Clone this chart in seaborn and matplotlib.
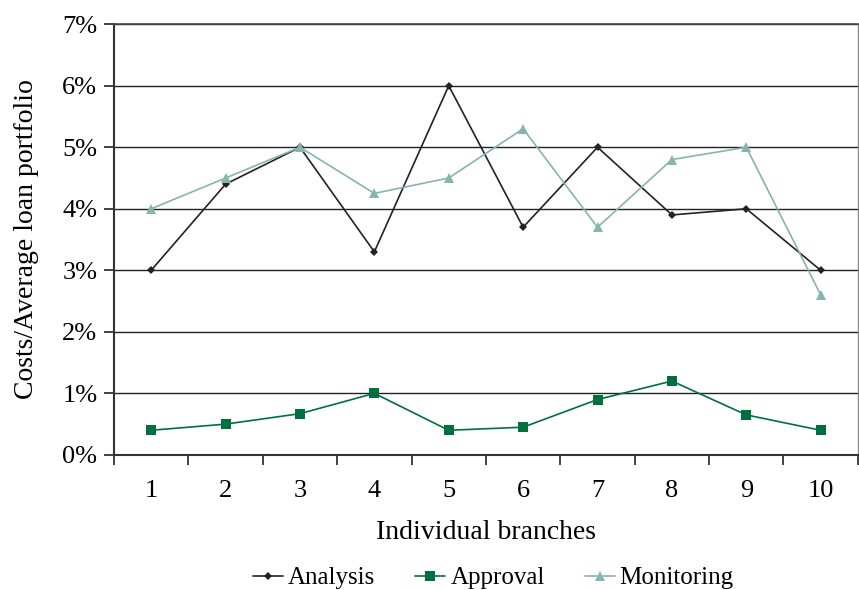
import matplotlib
matplotlib.use("Agg")
import matplotlib.pyplot as plt
import seaborn as sns
import pandas as pd
from matplotlib.ticker import FixedLocator, PercentFormatter

branches = [1, 2, 3, 4, 5, 6, 7, 8, 9, 10]
analysis = [3.0, 4.4, 5.0, 3.3, 6.0, 3.7, 5.0, 3.9, 4.0, 3.0]
approval = [0.4, 0.5, 0.67, 1.0, 0.4, 0.45, 0.9, 1.2, 0.65, 0.4]
monitoring = [4.0, 4.5, 5.0, 4.25, 4.5, 5.3, 3.7, 4.8, 5.0, 2.6]

df = pd.DataFrame({
    "branch": branches * 3,
    "value": analysis + approval + monitoring,
    "series": ["Analysis"] * 10 + ["Approval"] * 10 + ["Monitoring"] * 10,
})

sns.set_style("white")
plt.rcParams["font.family"] = ["Liberation Serif", "DejaVu Serif"]
plt.rcParams["text.color"] = "black"
plt.rcParams["axes.labelcolor"] = "black"
plt.rcParams["xtick.color"] = "black"
plt.rcParams["ytick.color"] = "black"

fig = plt.figure(figsize=(8.59, 5.90), dpi=100)
ax = fig.add_axes([0.1327, 0.229, 0.866, 0.730])

palette = {"Analysis": "#222222", "Approval": "#00703f", "Monitoring": "#86b4ae"}
markers = {"Analysis": "D", "Approval": "s", "Monitoring": "^"}
sizes = {"Analysis": 4.5, "Approval": 7, "Monitoring": 7.5}

for name in ["Analysis", "Approval", "Monitoring"]:
    sub = df[df["series"] == name]
    sns.lineplot(data=sub, x="branch", y="value", color=palette[name],
                 marker=markers[name], markersize=sizes[name], markeredgewidth=0,
                 linewidth=1.2, label=name, ax=ax)

ax.set_xlim(0.5, 10.5)
ax.set_ylim(0, 7)
ax.set_yticks(range(0, 8))
ax.yaxis.set_major_formatter(PercentFormatter(decimals=0))
ax.set_xticks(branches)
ax.xaxis.set_minor_locator(FixedLocator([x + 0.5 for x in range(0, 11)]))
ax.tick_params(axis="x", which="major", length=0, pad=18, labelsize=19)
ax.tick_params(axis="x", which="minor", bottom=True, length=7, width=1.2,
               color="#222222", direction="out")
ax.tick_params(axis="y", left=True, length=7, width=1.2, color="#222222",
               direction="out", labelsize=19, pad=5)
ax.grid(axis="y", color="#222222", linewidth=1.0)
ax.set_axisbelow(True)

for side in ["left", "bottom"]:
    ax.spines[side].set_color("#333333")
    ax.spines[side].set_linewidth(1.5)
ax.spines["top"].set_color("#444444")
ax.spines["top"].set_linewidth(1.2)
ax.spines["right"].set_color("#888888")
ax.spines["right"].set_linewidth(1.0)

ax.set_xlabel("Individual branches", fontsize=20, labelpad=13)
ax.set_ylabel("Costs/Average loan portfolio", fontsize=20, labelpad=17)

ax.legend(loc="upper center", bbox_to_anchor=(0.51, -0.237), ncol=3, frameon=False,
          fontsize=18, handlelength=1.2, handletextpad=0.2, columnspacing=1.6,
          borderaxespad=0)

fig.savefig("out.png", dpi=100)
